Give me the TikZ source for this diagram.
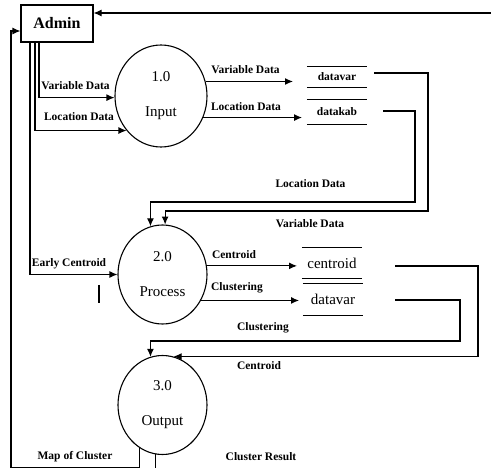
\documentclass[tikz,border=0pt]{standalone}
\usepackage{fontspec}
\setmainfont{Liberation Serif}
\usetikzlibrary{arrows.meta,shapes.geometric,calc}
\begin{document}
\begin{tikzpicture}[x=1pt,y=-1pt,
  line/.style={line width=1.1pt},
  arr/.style={line width=1.1pt,-{Latex[length=8pt,width=7pt]}},
  proc/.style={ellipse,draw,line width=1.1pt,minimum width=89pt,minimum height=99pt,inner sep=0pt,align=center,font=\fontsize{15}{35}\selectfont},
  lbl/.style={font=\fontsize{11.5}{13}\selectfont\bfseries,inner sep=0pt},
  store/.style={minimum width=60pt,inner sep=0pt},
  bigstore/.style={minimum width=60pt,inner sep=0pt,font=\fontsize{15}{17}\selectfont},
]
\useasboundingbox (0,0) rectangle (491,468);

% external entity
\node[draw,line width=1.1pt,minimum width=72pt,minimum height=37pt,inner sep=0pt,
      font=\fontsize{16}{18}\selectfont\bfseries] (admin) at (57,23.5) {Admin};

% processes
\node[proc,minimum width=92pt,minimum height=102pt] (in) at (161,96) {1.0\\Input};
\node[proc] (pro) at (162.5,274.5) {2.0\\Process};
\node[proc] (out) at (162.5,405) {3.0\\Output};

% data stores
\node[store,lbl,minimum height=20pt] (dv1) at (337,77) {datavar};
\node[store,lbl,minimum height=24pt] (dk) at (337,112) {datakab};
\node[bigstore,minimum height=30pt] (cs) at (332,263) {centroid};
\node[bigstore,minimum height=31pt] (dv2) at (333,299.5) {datavar};
\foreach \s in {dv1,dk,cs,dv2}{
  \draw[line] (\s.north west) -- (\s.north east) (\s.south west) -- (\s.south east);
}

% free ends
\coordinate (topR) at (491,13);
\coordinate (dv1o) at (374,73);
\coordinate (dko) at (383,111);
\coordinate (cso) at (395,266);
\coordinate (dv2o) at (395,300);

% connectors
\draw[arr] (topR) -- (topR -| admin.east);
\draw[arr] (out.242) |- (11,468) -- (11,31) -- (admin.west |- 11,31);
\draw[line] (out.262) -- (out.262 |- 0,468);

\draw[arr] (39,0 |- admin.south) |- (in.182);
\draw[arr] (35,0 |- admin.south) |- (in.225);
\draw[arr] (30,0 |- admin.south) |- (pro.west);

\draw[arr] (in.18) -- (in.18 -| 293,0);
\draw[arr] (in.-27) -- (in.-27 -| 302,0);

\draw[arr] (dv1o) -- (428,73) -- (428,211) -| (pro.87);
\draw[arr] (dko) -- (415,111) -- (415,202) -| (pro.104);

\draw[arr] (pro.11) -- (pro.11 -| 297,0);
\draw[arr] (pro.-34) -- (pro.-34 -| 299,0);

\draw[arr] (cso) -- (478,266) |- (out.77);
\draw[arr] (dv2o) -- (460,300) -- (460,341) -| (out.104);

% stray stroke
\draw[line] (99,285) -- (99,303);

% labels
\node[lbl] (l1) at (75.5,86) {Variable Data};
\node[lbl] (l2) at (79,117) {Location Data};
\node[lbl] (l3) at (245.5,70) {Variable Data};
\node[lbl] (l4) at (246,107) {Location Data};
\node[lbl] (l5) at (310.5,184) {Location Data};
\node[lbl] (l6) at (310,224) {Variable Data};
\node[lbl] (l7) at (69,264) {Early Centroid};
\node[lbl] (l8) at (234,255) {Centroid};
\node[lbl] (l9) at (237,288) {Clustering};
\node[lbl] (l10) at (263,328) {Clustering};
\node[lbl] (l11) at (259,366) {Centroid};
\node[lbl] (l12) at (75,457) {Map of Cluster};
\node[lbl] (l13) at (261,457) {Cluster Result};
\end{tikzpicture}
\end{document}
